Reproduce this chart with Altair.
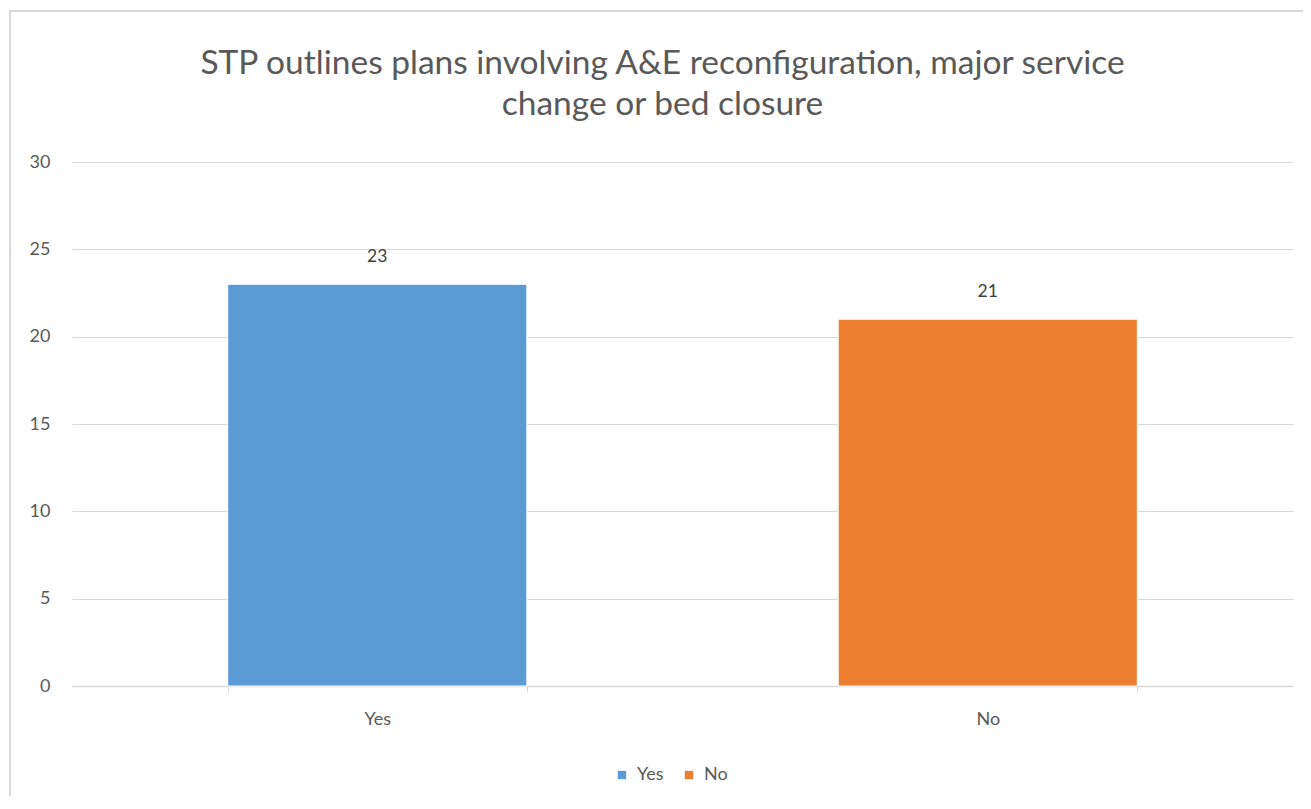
import altair as alt
import pandas as pd

categories = ["Yes", "No"]
values = [23, 21]
colors = ["#5B9BD5", "#ED7D31"]
y_ticks = [0, 5, 10, 15, 20, 25, 30]
title_lines = ["STP outlines plans involving A&E reconfiguration, major service", "change or bed closure"]

df = pd.DataFrame({"answer": categories, "count": values})

FONT = "Lato"
GREY = "#595959"

base = alt.Chart(df)

border = alt.Chart(pd.DataFrame({"k": [0]})).mark_rect(
    fill=None, stroke="#d9d9d9", strokeWidth=2, clip=False
).encode(
    x=alt.value(-62), y=alt.value(-151), x2=alt.value(1260), y2=alt.value(660)
)

bars = base.mark_bar(stroke="white", strokeWidth=1).encode(
    x=alt.X("answer:N", sort=categories, title=None,
            scale=alt.Scale(paddingInner=0.51, paddingOuter=0.255),
            axis=alt.Axis(labelAngle=0, tickBand="extent", ticks=True, tickSize=6,
                          tickColor="#d9d9d9", domainColor="#d9d9d9", domainWidth=1.5,
                          labelPadding=18, grid=False)),
    y=alt.Y("count:Q", title=None,
            scale=alt.Scale(domain=[0, 30], nice=False),
            axis=alt.Axis(values=y_ticks, domain=False, ticks=False, labelPadding=22,
                          gridColor="#d9d9d9", gridWidth=1.2)),
    color=alt.Color("answer:N", sort=categories,
                    scale=alt.Scale(domain=categories, range=colors),
                    legend=alt.Legend(title=None, orient="none", direction="horizontal",
                                      legendX=541, legendY=604, symbolType="square",
                                      symbolSize=70, symbolStrokeWidth=0,
                                      labelFontSize=18, labelColor=GREY, labelFont=FONT,
                                      columnPadding=16, labelOffset=6)),
)

labels = base.mark_text(baseline="bottom", dy=-18, fontSize=17.5, color="#404040", font=FONT).encode(
    x=alt.X("answer:N", sort=categories),
    y=alt.Y("count:Q"),
    text=alt.Text("count:Q"),
)

chart = alt.layer(border, bars, labels).properties(
    width=1221, height=524,
    title=alt.TitleParams(title_lines, fontSize=33.5, font=FONT, color=GREY, fontWeight="normal",
                          anchor="middle", frame="group", offset=-112, lineHeight=41, dx=-20),
    autosize=alt.AutoSizeParams(type="none"),
    padding={"left": 64, "top": 154, "right": 10, "bottom": 110},
).configure_view(stroke=None).configure_axis(
    labelFont=FONT, labelFontSize=18, labelColor=GREY
)

chart.save("out.html", embed_options={"renderer": "svg", "actions": False})
